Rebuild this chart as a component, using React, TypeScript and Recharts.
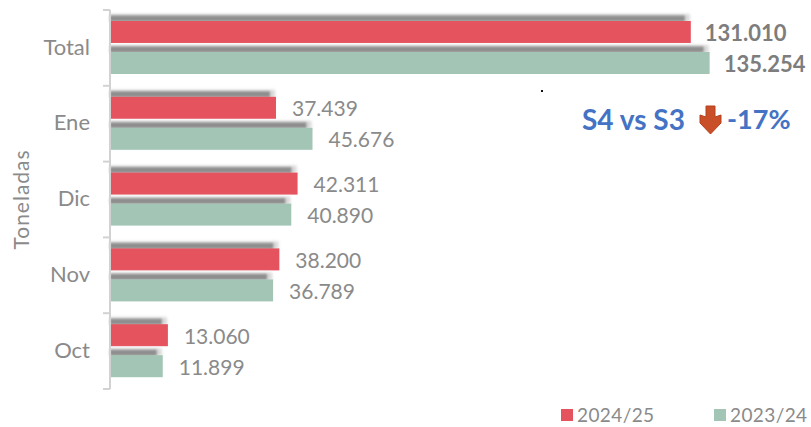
import React from "react";
import { BarChart, Bar, XAxis, YAxis, LabelList, Legend } from "recharts";

const categories = ["Total", "Ene", "Dic", "Nov", "Oct"];
const values2425 = [131010, 37439, 42311, 38200, 13060];
const values2324 = [135254, 45676, 40890, 36789, 11899];
const seriesNames = ["2024/25", "2023/24"];

const RED = "#e5535f";
const GREEN = "#a2c5b5";
const GREY = "#8a8a8a";
const FONT = "Lato, sans-serif";

const chartData = categories.map((name, i) => ({
  name,
  current: values2425[i],
  previous: values2324[i],
}));

const formatValue = (v: number) => String(v).replace(/\B(?=(\d{3})+$)/g, ".");

// Excel-style soft shadow sitting above each bar
const ShadowBar = (props: any) => {
  const { x, y, width, height, fill } = props;
  return (
    <g>
      <rect x={x} y={y - 7} width={Math.max(width - 1, 0)} height={8} fill="#d8d8d8" filter="url(#barBlur)" />
      <rect x={x} y={y - 5.5} width={Math.max(width - 6, 0)} height={6} fill="#8e8e8e" filter="url(#barBlurSmall)" />
      <rect x={x} y={y} width={width} height={height} fill={fill} />
    </g>
  );
};

const ValueLabel = (props: any) => {
  const { x, y, width, height, value, index } = props;
  const isTotal = index === 0;
  return (
    <text
      x={x + width + (isTotal ? 14 : 16)}
      y={y + height / 2 + 1}
      dy="0.36em"
      fontFamily={FONT}
      fontSize={isTotal ? 22 : 21}
      fontWeight={isTotal ? 700 : 400}
      fill={isTotal ? "#7d7d7d" : GREY}
    >
      {formatValue(value)}
    </text>
  );
};

// ticks in the reference sit on the band edges, not the centres
const CategoryTick = (props: any) => {
  const { x, y, payload, index } = props;
  const half = payload.offset || 37.9;
  return (
    <g>
      {index === 0 && <line x1={x + 13} x2={x + 20} y1={y - half} y2={y - half} stroke="#d2d2d2" strokeWidth={2} />}
      <line x1={x + 13} x2={x + 20} y1={y + half} y2={y + half} stroke="#d2d2d2" strokeWidth={2} />
      <text x={x} y={y} dy="0.3em" textAnchor="end" fontFamily={FONT} fontSize={22} fill={GREY}>
        {payload.value}
      </text>
    </g>
  );
};

const LegendRow = () => (
  <div style={{ position: "relative", width: 811, height: 18, fontFamily: FONT, fontSize: 19, letterSpacing: 0.4, color: GREY }}>
    {seriesNames.map((name, i) => (
      <div key={name} style={{ position: "absolute", left: i === 0 ? 561 : 714, top: 0, display: "flex", alignItems: "center", lineHeight: "18px" }}>
        <span style={{ width: 12, height: 12, background: i === 0 ? RED : GREEN, marginRight: 4, display: "inline-block" }} />
        {name}
      </div>
    ))}
  </div>
);

export default function App() {
  return (
    <div style={{ position: "absolute", left: 0, top: 0, width: 811, height: 427, background: "#fff", overflow: "hidden" }}>
      <BarChart
        width={811}
        height={427}
        data={chartData}
        layout="vertical"
        barSize={22}
        barGap={9}
        margin={{ top: 10, right: 36, bottom: 20, left: 0 }}
      >
        <defs>
          <filter id="barBlur" x="-5%" y="-100%" width="110%" height="300%">
            <feGaussianBlur stdDeviation="1.5" />
          </filter>
          <filter id="barBlurSmall" x="-5%" y="-100%" width="110%" height="300%">
            <feGaussianBlur stdDeviation="0.9" />
          </filter>
        </defs>
        <XAxis type="number" domain={[0, 150000]} hide />
        <YAxis
          type="category"
          dataKey="name"
          width={110}
          axisLine={{ stroke: "#d2d2d2", strokeWidth: 2 }}
          tickLine={false}
          tick={<CategoryTick />}
          tickMargin={14}
          label={{
            value: "Toneladas",
            angle: -90,
            position: "insideLeft",
            offset: 22,
            style: { fontFamily: FONT, fontSize: 21, fill: GREY, textAnchor: "middle", letterSpacing: 1 },
          }}
        />
        <Legend verticalAlign="bottom" align="left" content={<LegendRow />} wrapperStyle={{ left: 0, bottom: 3 }} />
        <Bar dataKey="current" name={seriesNames[0]} fill={RED} shape={<ShadowBar />} isAnimationActive={false}>
          <LabelList dataKey="current" content={<ValueLabel />} />
        </Bar>
        <Bar dataKey="previous" name={seriesNames[1]} fill={GREEN} shape={<ShadowBar />} isAnimationActive={false}>
          <LabelList dataKey="previous" content={<ValueLabel />} />
        </Bar>
      </BarChart>

      <div style={{ position: "absolute", left: 582, top: 101, fontFamily: FONT, fontSize: 28, fontWeight: 700, color: "#4472c4", whiteSpace: "nowrap", lineHeight: "36px" }}>
        S4 vs S3
      </div>
      <svg style={{ position: "absolute", left: 699, top: 105 }} width={24} height={30}>
        <path d="M7 1 H16 V12 L22 10 V18 L11.5 29 L1 18 V10 L7 12 Z" fill="#c94f28" stroke="#b5421f" strokeWidth={1} />
      </svg>
      <div style={{ position: "absolute", left: 727, top: 101, fontFamily: FONT, fontSize: 27, fontWeight: 700, color: "#4472c4", whiteSpace: "nowrap", lineHeight: "36px" }}>
        -17%
      </div>
      <div style={{ position: "absolute", left: 541, top: 90, width: 2, height: 2, background: "#111" }} />
    </div>
  );
}
